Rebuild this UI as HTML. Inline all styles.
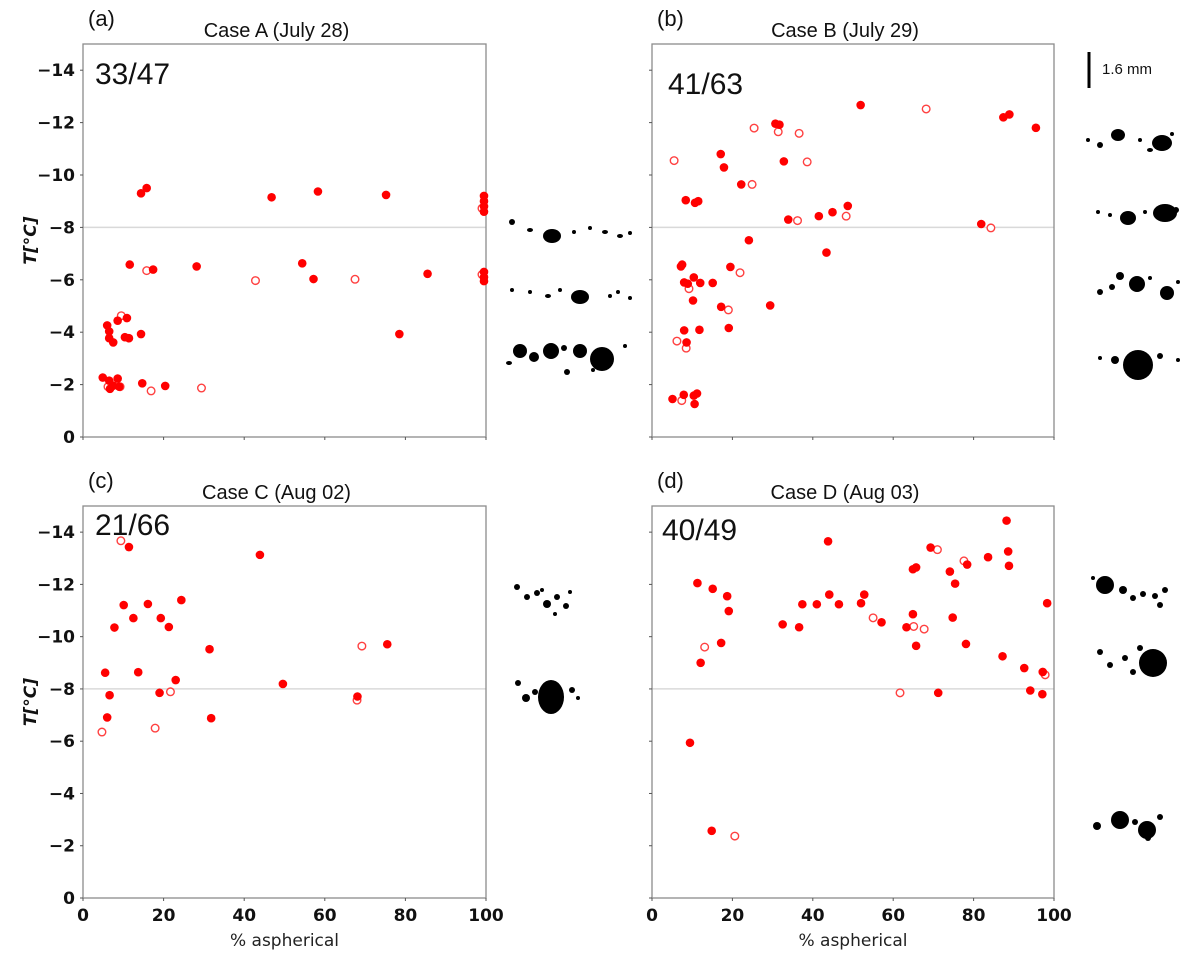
<!DOCTYPE html>
<html><head><meta charset="utf-8">
<style>
html,body{margin:0;padding:0;background:#fff;}
body{width:1200px;height:959px;overflow:hidden;}
svg text{font-family:"DejaVu Sans","Liberation Sans",sans-serif;}
</style></head>
<body>
<svg id="fig" width="1200" height="959" viewBox="0 0 1200 959" xmlns="http://www.w3.org/2000/svg"></svg>
<script>
// ---------- data ----------
const aFilledX=[14.4,15.8,46.8,58.3,75.2,99.5,99.5,99.5,99.5,11.6,17.4,28.2,54.4,57.2,85.5,99.5,99.5,99.5,10.9,8.6,6.0,6.5,6.5,7.5,10.4,11.4,14.4,78.5,4.9,6.5,8.6,6.7,7.5,9.0,14.7,20.4];
const aFilledT=[-9.3,-9.5,-9.15,-9.37,-9.24,-9.2,-9.0,-8.8,-8.6,-6.58,-6.39,-6.51,-6.63,-6.03,-6.23,-6.3,-6.1,-5.95,-4.54,-4.44,-4.26,-4.03,-3.77,-3.61,-3.81,-3.77,-3.93,-3.93,-2.27,-2.15,-2.23,-1.84,-1.96,-1.92,-2.05,-1.95];
const aOpenX=[9.5,15.8,42.8,67.5,16.9,29.4,6.2,9.2,99,99];
const aOpenT=[-4.63,-6.35,-5.97,-6.02,-1.76,-1.87,-1.92,-1.92,-8.73,-6.2];

const bFilledX=[51.9,87.4,88.9,95.5,30.7,31.7,17.1,17.9,32.8,22.2,8.4,10.7,11.5,33.9,41.5,44.9,48.7,81.9,24.1,43.4,7.5,7.2,19.5,10.4,8.0,8.9,12.0,15.1,10.2,17.2,29.4,8.0,11.8,19.1,8.6,5.1,7.9,10.4,11.2,10.6];
const bFilledT=[-12.67,-12.2,-12.31,-11.8,-11.96,-11.92,-10.8,-10.29,-10.52,-9.64,-9.04,-8.94,-9.0,-8.3,-8.43,-8.58,-8.82,-8.13,-7.51,-7.04,-6.58,-6.51,-6.49,-6.09,-5.9,-5.85,-5.88,-5.88,-5.21,-4.97,-5.02,-4.07,-4.09,-4.16,-3.61,-1.45,-1.61,-1.58,-1.66,-1.26];
const bOpenX=[68.2,25.4,31.4,36.6,5.5,38.6,24.9,36.2,48.3,84.3,21.9,9.2,19.0,6.2,8.5,7.4];
const bOpenT=[-12.52,-11.79,-11.65,-11.59,-10.55,-10.5,-9.64,-8.26,-8.43,-7.98,-6.27,-5.66,-4.85,-3.66,-3.39,-1.39];

const cFilledX=[11.4,43.9,10.1,16.1,24.4,12.5,19.3,7.8,21.3,31.4,75.5,5.5,13.7,23.0,49.6,6.6,19.0,68.1,6.0,31.8];
const cFilledT=[-13.43,-13.13,-11.21,-11.25,-11.4,-10.71,-10.71,-10.35,-10.37,-9.52,-9.71,-8.62,-8.64,-8.34,-8.19,-7.76,-7.85,-7.71,-6.91,-6.88];
const cOpenX=[9.4,21.7,69.2,68.0,4.7,17.9];
const cOpenT=[-13.67,-7.89,-9.64,-7.57,-6.35,-6.5];

const dFilledX=[11.3,15.1,18.7,19.1,17.2,12.1,43.8,32.5,36.6,37.4,41,44.1,46.5,52,52.8,57.1,63.3,64.9,64.9,65.7,65.7,69.3,74.1,75.4,74.8,78.4,78.1,83.6,88.2,88.6,88.8,87.2,92.6,97.2,98.3,94.1,97.1,71.2,9.45,14.85];
const dFilledT=[-12.05,-11.83,-11.55,-10.98,-9.76,-9.0,-13.65,-10.47,-10.36,-11.24,-11.24,-11.61,-11.24,-11.28,-11.61,-10.55,-10.36,-10.86,-12.58,-12.65,-9.65,-13.41,-12.49,-12.03,-10.73,-12.76,-9.72,-13.04,-14.44,-13.26,-12.71,-9.25,-8.8,-8.65,-11.28,-7.94,-7.8,-7.85,-5.94,-2.57];
const dOpenX=[13.1,55,65.1,67.7,71,77.6,97.8,61.7,20.6];
const dOpenT=[-9.6,-10.72,-10.39,-10.29,-13.33,-12.9,-8.54,-7.85,-2.37];

const yTicks=[-14,-12,-10,-8,-6,-4,-2,0];
const yTickLabels=["\u221214","\u221212","\u221210","\u22128","\u22126","\u22124","\u22122","0"];
const xTicks=[0,20,40,60,80,100];
const xTickLabels=["0","20","40","60","80","100"];

// ---------- drawing ----------
const NS="http://www.w3.org/2000/svg";
const svg=document.getElementById('fig');
function mk(tag,attrs,parent){const e=document.createElementNS(NS,tag);for(const k in attrs)e.setAttribute(k,attrs[k]);(parent||svg).appendChild(e);return e;}
const LIB='font-family:"Liberation Sans",sans-serif;';

const panels=[
 {id:'a',L:83,T:44,R:486,B:437,letter:'(a)',title:'Case A (July 28)',ratio:'33/47',yl:true,xl:false,fx:aFilledX,ft:aFilledT,ox:aOpenX,ot:aOpenT,rx:95,ry:84},
 {id:'b',L:652,T:44,R:1054,B:437,letter:'(b)',title:'Case B (July 29)',ratio:'41/63',yl:false,xl:false,fx:bFilledX,ft:bFilledT,ox:bOpenX,ot:bOpenT,rx:668,ry:94},
 {id:'c',L:83,T:506,R:486,B:898,letter:'(c)',title:'Case C (Aug 02)',ratio:'21/66',yl:true,xl:true,fx:cFilledX,ft:cFilledT,ox:cOpenX,ot:cOpenT,rx:95,ry:535},
 {id:'d',L:652,T:506,R:1054,B:898,letter:'(d)',title:'Case D (Aug 03)',ratio:'40/49',yl:false,xl:true,fx:dFilledX,ft:dFilledT,ox:dOpenX,ot:dOpenT,rx:662,ry:540}
];

panels.forEach(p=>{
  const g=mk('g',{});
  
  
  const sx=v=>p.L+(v/100)*(p.R-p.L);
  const sy=t=>p.B+(t/15)*(p.B-p.T);
  const gl=mk('line',{x1:p.L,x2:p.R,y1:sy(-8),y2:sy(-8),stroke:'#d9d9d9','stroke-width':1.5},g);
  
  
  const fr=mk('rect',{x:p.L,y:p.T,width:p.R-p.L,height:p.B-p.T,fill:'none',stroke:'#8c8c8c','stroke-width':1.3},g);
  
  
  yTicks.forEach((t,i)=>{
    mk('line',{x1:p.L-3,x2:p.L,y1:sy(t),y2:sy(t),stroke:'#555','stroke-width':1},g);
    if(p.yl){
      const tx=mk('text',{x:p.L-8,y:sy(t)+6,'text-anchor':'end','font-size':17,'font-weight':'bold',fill:'#111'},g);
      tx.textContent=yTickLabels[i];
      
      
    }
  });
  xTicks.forEach((v,i)=>{
    mk('line',{x1:sx(v),x2:sx(v),y1:p.B,y2:p.B+3,stroke:'#555','stroke-width':1},g);
    if(p.xl){
      const tx=mk('text',{x:sx(v),y:p.B+23,'text-anchor':'middle','font-size':17,'font-weight':'bold',fill:'#111'},g);
      tx.textContent=xTickLabels[i];
      
      
    }
  });
  if(p.xl){
    const xt=mk('text',{x:(p.L+p.R)/2,y:p.B+48,'text-anchor':'middle','font-size':17,fill:'#222'},g);
    xt.textContent='% aspherical';
    
    
  }
  if(p.yl){
    const cy=(p.T+p.B)/2;
    const yt=mk('text',{x:36,y:cy,'text-anchor':'middle','font-size':17,'font-weight':'bold','font-style':'italic',fill:'#111',transform:'rotate(-90 36 '+cy+')'},g);
    yt.textContent='T[\u00B0C]';
    
    
  }
  const lt=mk('text',{x:p.L+5,y:p.T-18,'font-size':22,fill:'#111',style:LIB},g);
  lt.textContent=p.letter;
  
  
  const tt=mk('text',{x:(p.L+p.R)/2-8,y:p.T-7,'text-anchor':'middle','font-size':20,fill:'#111',style:LIB},g);
  tt.textContent=p.title;
  
  
  const rt=mk('text',{x:p.rx,y:p.ry,'font-size':30,fill:'#111',style:LIB},g);
  rt.textContent=p.ratio;
  
  
  p.ox.forEach((v,i)=>{
    const c=mk('circle',{cx:sx(v),cy:sy(p.ot[i]),r:3.8,fill:'#fff',stroke:'#ff4040','stroke-width':1.4},g);
    
    
  });
  p.fx.forEach((v,i)=>{
    const c=mk('circle',{cx:sx(v),cy:sy(p.ft[i]),r:4.3,fill:'#ff0000'},g);
    
    
  });
});

// ---------- particle thumbnails (approximate) ----------
const blobs=[
 [552,236,9,7],[512,222,3,3],[530,230,3,2],[574,232,2,2],[590,228,2,2],[605,232,3,2],[620,236,3,2],[630,233,2,2],
 [580,297,9,7],[512,290,2,2],[530,292,2,2],[548,296,3,2],[560,290,2,2],[610,296,2,2],[618,292,2,2],[630,298,2,2],
 [520,351,7,7],[534,357,5,5],[551,351,8,8],[564,348,3,3],[580,351,7,7],[602,359,12,12],[567,372,3,3],[593,370,2,2],[509,363,3,2],[625,346,2,2],
 [1118,135,7,6],[1100,145,3,3],[1088,140,2,2],[1140,140,2,2],[1162,143,10,8],[1150,150,3,2],[1172,134,2,2],
 [1128,218,8,7],[1165,213,12,9],[1098,212,2,2],[1110,215,2,2],[1145,212,2,2],[1176,210,3,3],
 [1137,284,8,8],[1120,276,4,4],[1167,293,7,7],[1100,292,3,3],[1112,287,3,3],[1150,278,2,2],[1178,282,2,2],
 [1138,365,15,15],[1115,360,4,4],[1100,358,2,2],[1160,356,3,3],[1178,360,2,2],
 [517,587,3,3],[527,597,3,3],[537,593,3,3],[547,604,4,4],[557,597,3,3],[566,606,3,3],[555,614,2,2],[570,592,2,2],[542,590,2,2],
 [551,697,13,17],[518,683,3,3],[526,698,4,4],[535,692,3,3],[572,690,3,3],[578,698,2,2],
 [1105,585,9,9],[1093,578,2,2],[1123,590,4,4],[1133,598,3,3],[1143,594,3,3],[1155,596,3,3],[1165,590,3,3],[1160,605,3,3],
 [1153,663,14,14],[1100,652,3,3],[1110,665,3,3],[1125,658,3,3],[1133,672,3,3],[1140,648,3,3],
 [1120,820,9,9],[1147,830,9,9],[1097,826,4,4],[1135,822,3,3],[1160,817,3,3],[1148,838,3,3]
];
const tg=mk('g',{});


blobs.forEach(b=>{
  const e=mk('ellipse',{cx:b[0],cy:b[1],rx:b[2],ry:b[3],fill:'#000'},tg);
  
  
});
const sb=mk('line',{x1:1089,x2:1089,y1:52,y2:88,stroke:'#000','stroke-width':3});


const st=mk('text',{x:1102,y:74,'font-size':15,fill:'#111',style:LIB});
st.textContent='1.6 mm';


</script>
</body></html>
